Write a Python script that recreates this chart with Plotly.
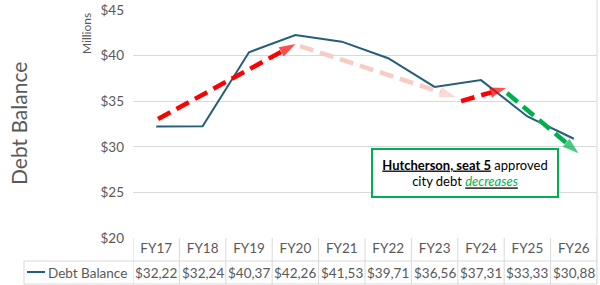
import plotly.graph_objects as go

categories = ["FY17", "FY18", "FY19", "FY20", "FY21", "FY22", "FY23", "FY24", "FY25", "FY26"]
debt_balance = [32.22, 32.24, 40.37, 42.26, 41.53, 39.71, 36.56, 37.31, 33.33, 30.88]
y_ticks = [20, 25, 30, 35, 40, 45]

# trend arrows (x = category index, y = millions)
arrow_red1_x = [0.04, 3.0]
arrow_red1_y = [33.05, 41.27]
arrow_pink_x = [3.1, 6.45]
arrow_pink_y = [41.05, 35.46]
arrow_red2_x = [6.57, 7.54]
arrow_red2_y = [35.0, 36.45]
arrow_green_x = [7.56, 9.1]
arrow_green_y = [35.9, 29.3]

FONT = "Lato, 'Open Sans', sans-serif"
GRAY = "#595959"
GRID = "#D9D9D9"
LINE = "#255E79"

x_idx = list(range(len(categories)))

fig = go.Figure()
fig.add_trace(go.Scatter(x=x_idx, y=debt_balance, mode="lines",
                         line=dict(color=LINE, width=2), name="Debt Balance",
                         showlegend=False, hoverinfo="skip"))

def add_arrow(xs, ys, color):
    fig.add_trace(go.Scatter(
        x=xs, y=ys, mode="lines+markers",
        line=dict(color=color, width=4.5, dash="14px,7px"),
        marker=dict(symbol="arrow", size=[0, 17], color=color, angleref="previous",
                    line=dict(width=0)),
        showlegend=False, hoverinfo="skip"))

add_arrow(arrow_pink_x, arrow_pink_y, "#F8CBC4")
add_arrow(arrow_red1_x, arrow_red1_y, "#FF0000")
add_arrow(arrow_red2_x, arrow_red2_y, "#FF0000")
add_arrow(arrow_green_x, arrow_green_y, "#00B050")

L, R, T, B = 133, 3, 10, 47
W, H = 600, 285
pw = W - L - R
ph = H - T - B

def px_to_paper_x(px):
    return (px - L) / pw

def px_to_paper_y(py):
    return (H - B - py) / ph

shapes = []
row_mid = px_to_paper_y(261)
row_bot = px_to_paper_y(284)
# vertical table lines
for i in range(len(categories) + 1):
    shapes.append(dict(type="line", xref="x", yref="paper", x0=i - 0.5, x1=i - 0.5,
                       y0=0, y1=row_bot, line=dict(color=GRID, width=1)))
# horizontal table lines
shapes.append(dict(type="line", xref="paper", yref="paper", x0=px_to_paper_x(24), x1=1,
                   y0=row_mid, y1=row_mid, line=dict(color=GRID, width=1)))
shapes.append(dict(type="line", xref="paper", yref="paper", x0=px_to_paper_x(24), x1=1,
                   y0=row_bot, y1=row_bot, line=dict(color=GRID, width=1)))
shapes.append(dict(type="line", xref="paper", yref="paper", x0=px_to_paper_x(24), x1=px_to_paper_x(24),
                   y0=row_mid, y1=row_bot, line=dict(color=GRID, width=1)))
# right border
shapes.append(dict(type="line", xref="paper", yref="paper", x0=1, x1=1,
                   y0=row_bot, y1=px_to_paper_y(0), line=dict(color=GRID, width=1)))
# legend key
shapes.append(dict(type="line", xref="paper", yref="paper", x0=px_to_paper_x(27), x1=px_to_paper_x(45),
                   y0=px_to_paper_y(272), y1=px_to_paper_y(272), line=dict(color=LINE, width=2)))

annotations = []
for i, v in enumerate(debt_balance):
    annotations.append(dict(x=i, xref="x", y=px_to_paper_y(273), yref="paper",
                            text="$" + f"{v:.2f}".replace(".", ","), showarrow=False,
                            font=dict(family=FONT, size=13.5, color=GRAY),
                            xanchor="center", yanchor="middle"))
annotations.append(dict(x=px_to_paper_x(46), xref="paper", y=px_to_paper_y(273), yref="paper",
                        text="Debt Balance", showarrow=False,
                        font=dict(family=FONT, size=13.5, color=GRAY),
                        xanchor="left", yanchor="middle"))
annotations.append(dict(x=px_to_paper_x(18), xref="paper", y=px_to_paper_y(124), yref="paper",
                        text="Debt Balance", showarrow=False, textangle=-90,
                        font=dict(family=FONT, size=21, color=GRAY),
                        xanchor="center", yanchor="middle"))
annotations.append(dict(x=px_to_paper_x(86), xref="paper", y=px_to_paper_y(34), yref="paper",
                        text="Millions", showarrow=False, textangle=-90,
                        font=dict(family=FONT, size=12, color=GRAY),
                        xanchor="center", yanchor="middle"))
annotations.append(dict(x=6.66, xref="x", y=27.08, yref="y",
                        text="<b><u>Hutcherson, seat 5</u></b> approved<br>city debt "
                             "<i><u><span style='color:#00B050'>decreases</span></u></i>",
                        showarrow=False, align="center",
                        font=dict(family=FONT, size=13, color="#000000"),
                        bordercolor="#00B050", borderwidth=2, borderpad=3,
                        bgcolor="white", width=178, height=40,
                        xanchor="center", yanchor="middle"))

fig.update_layout(
    width=W, height=H,
    margin=dict(l=L, r=R, t=T, b=B),
    paper_bgcolor="white", plot_bgcolor="white",
    xaxis=dict(range=[-0.5, len(categories) - 0.5], tickvals=x_idx, ticktext=categories,
               showgrid=False, zeroline=False, showline=False, ticks="",
               tickfont=dict(family=FONT, size=13.5, color=GRAY), fixedrange=True),
    yaxis=dict(range=[20, 45], tickvals=y_ticks, ticktext=["$" + str(t) for t in y_ticks],
               showgrid=True, gridcolor=GRID, gridwidth=1, zeroline=False, showline=False,
               ticks="", ticklabelstandoff=8,
               tickfont=dict(family=FONT, size=13.5, color=GRAY), fixedrange=True),
    shapes=shapes, annotations=annotations,
    showlegend=False,
)

fig.write_html("out.html")
